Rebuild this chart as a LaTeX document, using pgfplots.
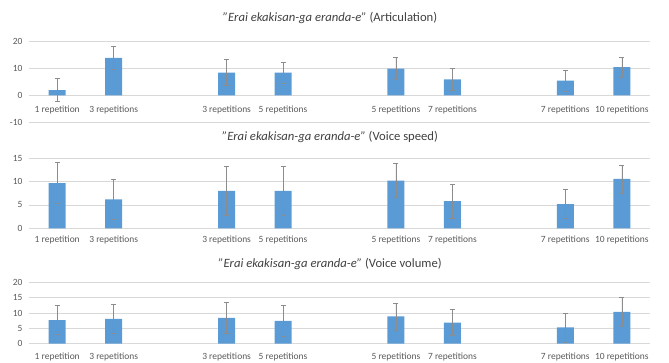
\documentclass[border=0pt]{standalone}
\usepackage{fontspec}
\setmainfont{Carlito}
\usepackage{pgfplots}
\usepackage{pgfplotstable}
\pgfplotsset{compat=1.18}

\definecolor{barblue}{HTML}{5B9BD5}
\definecolor{gridgray}{HTML}{D9D9D9}
\definecolor{ticktext}{HTML}{595959}
\definecolor{titletext}{HTML}{404040}
\definecolor{errgray}{HTML}{8C8C8C}

% x = slot of the bar (empty slots 2, 5, 8 separate the pairs), y = mean, e = error
\pgfplotstableread{
x y e
0 2.0 4.3
1 14.0 4.4
3 8.5 4.8
4 8.5 4.0
6 10.0 4.1
7 6.0 4.0
9 5.5 3.8
10 10.5 3.8
}\articulation

\pgfplotstableread{
x y e
0 9.7 4.35
1 6.2 4.3
3 8.0 5.2
4 8.0 5.2
6 10.2 3.65
7 5.8 3.6
9 5.2 3.1
10 10.6 3.0
}\speed

\pgfplotstableread{
x y e
0 7.7 4.7
1 8.1 4.7
3 8.4 5.1
4 7.4 5.0
6 8.9 4.4
7 6.9 4.3
9 5.3 4.7
10 10.4 4.7
}\volume

\pgfplotsset{
  panel/.style={
    scale only axis,
    width=621bp,
    anchor=north west,
    xmin=-0.5, xmax=10.5,
    enlargelimits=false,
    axis line style={draw=none},
    xtick={0,1,3,4,6,7,9,10},
    xticklabels={1 repetition,3 repetitions,3 repetitions,5 repetitions,5 repetitions,7 repetitions,7 repetitions,10 repetitions},
    xtick pos=bottom, ytick pos=left,
    major tick length=0pt,
    ymajorgrids,
    grid style={gridgray, line width=0.6bp},
    tick label style={font=\fontsize{9.5}{11}\selectfont, text=ticktext},
    yticklabel style={xshift=-3bp},
    /pgf/number format/assume math mode=true,
    ybar, bar width=17bp, bar shift=0pt,
    clip=false,
  },
  bars/.style={
    fill=barblue, draw=none,
    error bars/.cd,
      y dir=both, y explicit,
      error bar style={errgray, line width=0.5bp},
      error mark options={errgray, line width=0.5bp, mark size=2.5bp, rotate=90},
  },
}

\newcommand{\charttitle}[1]{{\itshape \char"22 Erai ekakisan-ga eranda-e\char"22}\ (#1)}

\begin{document}
\begin{tikzpicture}
\useasboundingbox (0,0) rectangle (669bp,-363bp);

\node[font=\fontsize{12.7}{15}\selectfont, text=titletext] at (330bp,-18bp) {\charttitle{Articulation}};
\begin{axis}[panel, at={(29bp,-41.7bp)}, height=80.6bp,
  ymin=-10, ymax=20, ytick={-10,0,10,20},
  xticklabel style={yshift=19.5bp}]
  \addplot[bars] table[x=x, y=y, y error=e] {\articulation};
\end{axis}

\node[font=\fontsize{12.7}{15}\selectfont, text=titletext] at (330bp,-137bp) {\charttitle{Voice speed}};
\begin{axis}[panel, at={(29bp,-158.3bp)}, height=70bp,
  ymin=0, ymax=15, ytick={0,5,10,15},
  xticklabel style={yshift=-4bp}]
  \addplot[bars] table[x=x, y=y, y error=e] {\speed};
\end{axis}

\node[font=\fontsize{12.7}{15}\selectfont, text=titletext] at (330bp,-264bp) {\charttitle{Voice volume}};
\begin{axis}[panel, at={(29bp,-282.3bp)}, height=61.4bp,
  ymin=0, ymax=20, ytick={0,5,10,15,20},
  xticklabel style={yshift=-6bp}]
  \addplot[bars] table[x=x, y=y, y error=e] {\volume};
\end{axis}
\end{tikzpicture}
\end{document}
